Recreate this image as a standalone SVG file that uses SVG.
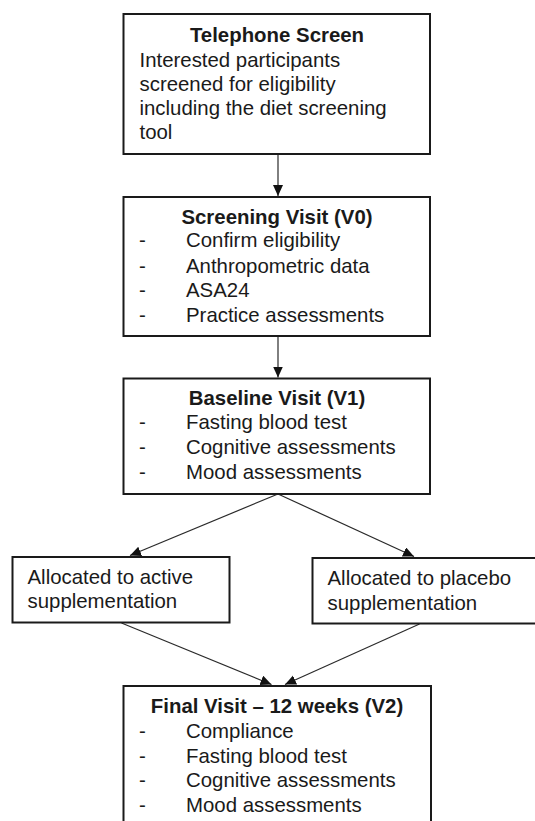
<svg xmlns="http://www.w3.org/2000/svg" width="535" height="821" viewBox="0 0 535 821">
<style>
.box{fill:#fff;stroke:#1a1a1a;stroke-width:2}
.t{font-family:"Liberation Sans",Arial,sans-serif;font-size:20.4px;fill:#1a1a1a}
.b{font-weight:bold;text-anchor:middle}
.c{fill:none;stroke:#2a2a2a;stroke-width:1.2}
</style>
<defs>
<marker id="ah" markerUnits="userSpaceOnUse" markerWidth="12" markerHeight="11" refX="11" refY="5" orient="auto">
<path d="M0,0 L11,5 L0,10 z" fill="#111"/>
</marker>
</defs>
<rect width="535" height="821" fill="#fff"/>
<g id="connectors">
<line class="c" x1="278" y1="155" x2="278" y2="196" marker-end="url(#ah)"/>
<line class="c" x1="278" y1="337" x2="278" y2="377.5" marker-end="url(#ah)"/>
<line class="c" x1="278" y1="494" x2="130" y2="555.5" marker-end="url(#ah)"/>
<line class="c" x1="278" y1="494" x2="414" y2="556.5" marker-end="url(#ah)"/>
<line class="c" x1="121.5" y1="623" x2="271.5" y2="684.5" marker-end="url(#ah)"/>
<line class="c" x1="419.5" y1="624" x2="285" y2="684.5" marker-end="url(#ah)"/>
</g>
<g id="telephone">
<rect class="box" x="123.5" y="14" width="306.5" height="140"/>
<text class="t b" x="277" y="41.5">Telephone Screen</text>
<text class="t" x="139.5" y="66.5">Interested participants</text>
<text class="t" x="139.5" y="90.8">screened for eligibility</text>
<text class="t" x="139.5" y="115">including the diet screening</text>
<text class="t" x="139.5" y="139.3">tool</text>
</g>
<g id="screening">
<rect class="box" x="123.5" y="197" width="306.5" height="139"/>
<text class="t b" x="277" y="224.2">Screening Visit (V0)</text>
<text class="t" x="139" y="247.4">-</text><text class="t" x="186" y="247.4">Confirm eligibility</text>
<text class="t" x="139" y="272.6">-</text><text class="t" x="186" y="272.6">Anthropometric data</text>
<text class="t" x="139" y="297.4">-</text><text class="t" x="186" y="297.4">ASA24</text>
<text class="t" x="139" y="321.8">-</text><text class="t" x="186" y="321.8">Practice assessments</text>
</g>
<g id="baseline">
<rect class="box" x="123.5" y="378.5" width="306.5" height="115.5"/>
<text class="t b" x="277" y="405">Baseline Visit (V1)</text>
<text class="t" x="139" y="429.4">-</text><text class="t" x="186" y="429.4">Fasting blood test</text>
<text class="t" x="139" y="454.4">-</text><text class="t" x="186" y="454.4">Cognitive assessments</text>
<text class="t" x="139" y="479.2">-</text><text class="t" x="186" y="479.2">Mood assessments</text>
</g>
<g id="active">
<rect class="box" x="12.5" y="557" width="217" height="65.5"/>
<text class="t" x="27.5" y="583.5">Allocated to active</text>
<text class="t" x="27.5" y="608">supplementation</text>
</g>
<g id="placebo">
<rect class="box" x="312.5" y="558" width="230" height="65.5"/>
<text class="t" x="327.5" y="585">Allocated to placebo</text>
<text class="t" x="327.5" y="609.8">supplementation</text>
</g>
<g id="final">
<rect class="box" x="123.5" y="686" width="307.5" height="150"/>
<text class="t b" x="277" y="712.7">Final Visit – 12 weeks (V2)</text>
<text class="t" x="139" y="738.3">-</text><text class="t" x="186" y="738.3">Compliance</text>
<text class="t" x="139" y="763.2">-</text><text class="t" x="186" y="763.2">Fasting blood test</text>
<text class="t" x="139" y="787">-</text><text class="t" x="186" y="787">Cognitive assessments</text>
<text class="t" x="139" y="811.7">-</text><text class="t" x="186" y="811.7">Mood assessments</text>
</g>
</svg>
